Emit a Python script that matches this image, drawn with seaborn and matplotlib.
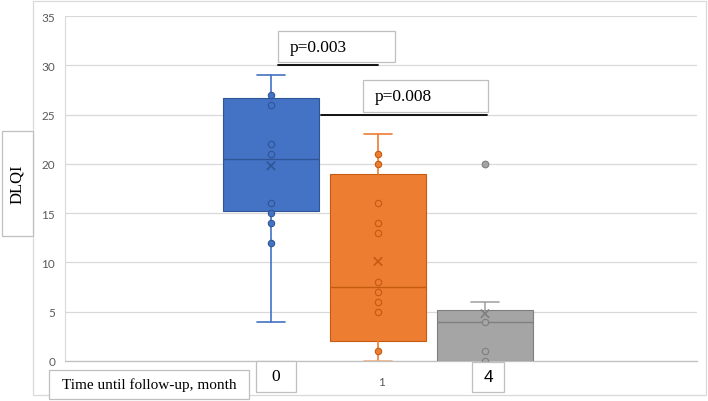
import numpy as np
import pandas as pd
import matplotlib.pyplot as plt
import seaborn as sns
from matplotlib.patches import Rectangle

# data (DLQI by follow-up month)
months = ['0', '1', '4']
box_q1 = [15.2, 2.0, 0.0]
box_med = [20.5, 7.5, 4.0]
box_q3 = [26.7, 19.0, 5.2]
whisk_lo = [4, 0, 0]
whisk_hi = [29, 23, 6]
means = [19.8, 10.1, 4.8]
outliers = [[], [], [20]]
points_m0 = [27, 26, 22, 21, 16, 15, 14, 12]
points_m1 = [21, 20, 16, 14, 13, 8, 7, 6, 5, 1]
points_m4 = [4, 1, 0]
p_labels = ['p=0.003', 'p=0.008']
p_levels = [30, 25]

fills = ['#4472C4', '#ED7D31', '#A5A5A5']
darks = ['#2F5597', '#C55A11', '#7F7F7F']

sns.set_style('white')
plt.rcParams['font.family'] = ['Lato', 'DejaVu Sans']

W, H = 708, 402
fig = plt.figure(figsize=(W / 100, H / 100), dpi=100)


def px(x, y):
    return x / W, 1 - y / H


# plot area in pixels: x 65..697, y 17 (35) .. 362 (0)
l, t = px(65, 17)
r, b = px(697, 362)
ax = fig.add_axes([l, b, r - l, t - b])

stats = []
for i, m in enumerate(months):
    stats.append(dict(label=m, q1=box_q1[i], med=box_med[i], q3=box_q3[i],
                      whislo=whisk_lo[i], whishi=whisk_hi[i], mean=means[i],
                      fliers=outliers[i]))

bp = ax.bxp(stats, positions=[0, 1, 2], widths=0.9, capwidths=0.26,
            patch_artist=True, showfliers=True, showmeans=False,
            manage_ticks=False, zorder=3)
for i in range(3):
    bp['boxes'][i].set(facecolor=fills[i], edgecolor=darks[i], linewidth=0.8)
    bp['medians'][i].set(color=darks[i], linewidth=1.0)
    for k in (2 * i, 2 * i + 1):
        bp['whiskers'][k].set(color=fills[i], linewidth=1.2)
        bp['caps'][k].set(color=fills[i], linewidth=1.2)
    bp['fliers'][i].set(marker='o', markerfacecolor=fills[i],
                        markeredgecolor=darks[i], markersize=4.8,
                        markeredgewidth=0.8)
# the lower cap of month 1 sits on the axis and looks faded
bp['caps'][2].set(color='#F4B183')

df = pd.DataFrame({
    'month': ['0'] * len(points_m0) + ['1'] * len(points_m1) + ['4'] * len(points_m4),
    'DLQI': points_m0 + points_m1 + points_m4,
})
for i, m in enumerate(months):
    sns.stripplot(data=df[df['month'] == m], x='month', y='DLQI', order=months,
                  color=fills[i], edgecolor=darks[i], linewidth=0.8, size=4.6,
                  jitter=False, ax=ax, zorder=4)

ax.scatter([0, 1, 2], means, marker='x', s=36, c=darks, linewidths=1.2, zorder=5)

# p-value brackets
ax.plot([0.07, 1.0], [p_levels[0]] * 2, color='black', lw=1.3, zorder=6, clip_on=False)
ax.plot([0.47, 2.02], [p_levels[1]] * 2, color='black', lw=1.3, zorder=6, clip_on=False)

ax.set_xlim((65 - 271) / 107, (697 - 271) / 107)
ax.set_ylim(0, 35)
ax.set_yticks(np.arange(0, 36, 5))
ax.set_xticks([1.03])
ax.set_xticklabels([months[1]])
ax.set_xlabel('')
ax.set_ylabel('')
ax.tick_params(axis='y', length=0, pad=7, labelsize=8.5, labelcolor='#595959')
ax.tick_params(axis='x', length=0, pad=11, labelsize=8.5, labelcolor='#595959')
ax.grid(axis='y', color='#D9D9D9', lw=0.9, zorder=0)
ax.set_axisbelow(True)
for s in ['top', 'right']:
    ax.spines[s].set_visible(False)
ax.spines['left'].set_color('#D9D9D9')
ax.spines['left'].set_linewidth(0.8)
ax.spines['bottom'].set_color('#BFBFBF')
ax.spines['bottom'].set_linewidth(0.9)

# outer chart frame
x0, y0 = px(33, 396)
x1, y1 = px(706, 2)
fig.add_artist(Rectangle((x0, y0), x1 - x0, y1 - y0, transform=fig.transFigure,
                         facecolor='none', edgecolor='#D9D9D9', lw=0.9, zorder=0))


def text_box(x_a, y_a, x_b, y_b, txt, size, family, rot=0, ha='center', pad=0):
    xa, ya = px(x_a, y_b)
    xb, yb = px(x_b, y_a)
    fig.add_artist(Rectangle((xa, ya), xb - xa, yb - ya, transform=fig.transFigure,
                             facecolor='white', edgecolor='#BFBFBF', lw=0.9, zorder=10))
    tx = (xa + xb) / 2 if ha == 'center' else xa + pad / W
    fig.text(tx, (ya + yb) / 2, txt, ha=ha, va='center', rotation=rot,
             fontsize=size, family=family, color='black', zorder=11)


serif = ['Liberation Serif', 'DejaVu Serif']
text_box(2, 132, 33, 237, 'DLQI', 12, serif, rot=90)
text_box(49, 371, 249, 400, 'Time until follow-up, month', 11, serif)
text_box(256, 362, 296, 393, months[0], 12.5, serif)
text_box(472, 363, 504, 393, months[2], 12.5, ['Liberation Sans', 'DejaVu Sans'])
text_box(278, 32, 395, 63, p_labels[0], 12.5, serif, ha='left', pad=12)
text_box(363, 81, 488, 113, p_labels[1], 12.5, serif, ha='left', pad=12)

fig.savefig('out.png', dpi=100)
